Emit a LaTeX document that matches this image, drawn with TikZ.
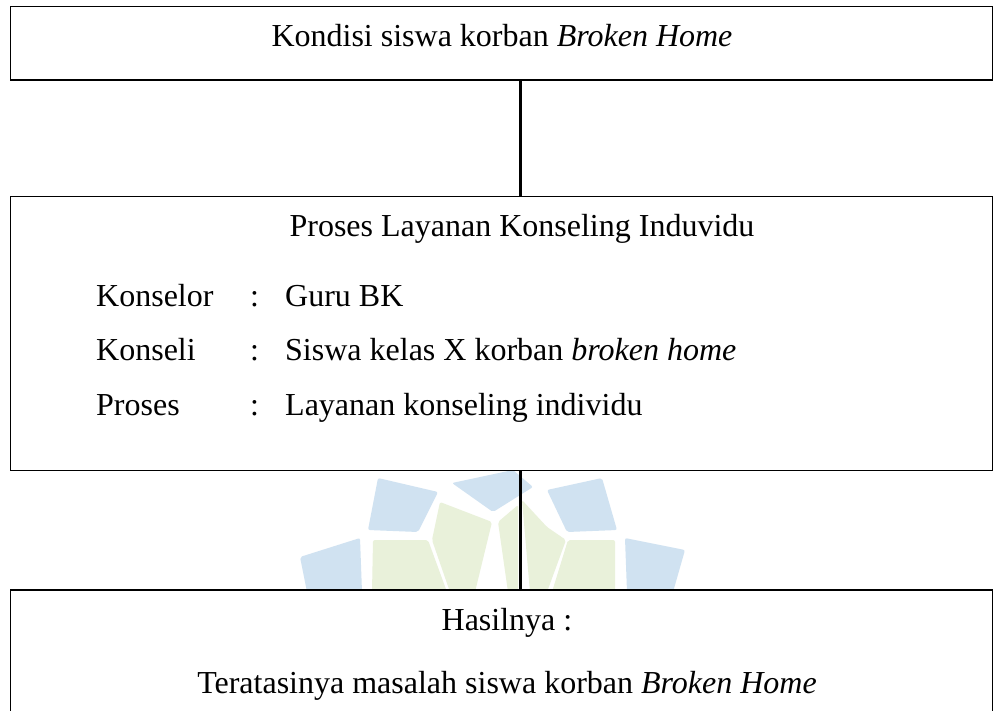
\documentclass[tikz,border=0pt]{standalone}
\usepackage{fontspec}
\setmainfont{Liberation Serif}
\definecolor{wblue}{RGB}{208,226,241}
\definecolor{wgreen}{RGB}{233,241,218}
\begin{document}
\begin{tikzpicture}[x=1pt,y=-1pt,
  box/.style={draw=black, line width=1.3pt, fill=white, inner sep=0pt},
  link/.style={draw=black, line width=2.6pt},
  txt/.style={font=\fontsize{32}{38}\selectfont, inner sep=0pt, anchor=base},
  lbl/.style={font=\fontsize{32}{38}\selectfont, inner sep=0pt, anchor=base west},
  tile/.style={rounded corners=2pt}]
\useasboundingbox (0,0) rectangle (993,710);
\fill[white] (0,0) rectangle (993,710);
% watermark (faint logo)
\fill[wblue,tile] (378,478) -- (438,492) -- (418,532) -- (368,530) -- cycle;
\fill[wblue,tile] (452,483) -- (513,470) -- (533,487) -- (493,512) -- cycle;
\fill[wblue,tile] (547,490) -- (602,478) -- (617,530) -- (567,532) -- cycle;
\fill[wblue,tile] (300,557) -- (360,538) -- (362,592) -- (307,592) -- cycle;
\fill[wblue,tile] (625,538) -- (685,550) -- (673,592) -- (627,592) -- cycle;
\fill[wgreen,tile] (373,540) -- (428,540) -- (447,592) -- (372,592) -- cycle;
\fill[wgreen,tile] (440,502) -- (492,522) -- (475,592) -- (450,592) -- (432,540) -- cycle;
\fill[wgreen,tile] (498,522) -- (518,505) -- (518,592) -- (508,592) -- cycle;
\fill[wgreen,tile] (522,500) -- (547,527) -- (566,540) -- (547,592) -- (530,592) -- cycle;
\fill[wgreen,tile] (568,540) -- (615,540) -- (615,592) -- (552,592) -- cycle;
% boxes
\node[box, minimum width=981.6pt, minimum height=73.3pt] (top) at (501.5,43.35) {};
\node[box, minimum width=981.6pt, minimum height=274pt] (mid) at (501.5,333.7) {};
\node[box, minimum width=981.6pt, minimum height=140pt] (bot) at (501.5,660) {};
% connectors
\coordinate (axis) at (520.3,0);
\draw[link] (top.south -| axis) -- (mid.north -| axis);
\draw[link] (mid.south -| axis) -- (bot.north -| axis);
% texts
\node[txt] (t1) at (502,46.7) {Kondisi siswa korban \textit{Broken Home}};
\node[txt] (t2) at (522,236.7) {Proses Layanan Konseling Induvidu};
\node[lbl] (l1) at (96,306) {Konselor};
\node[lbl] (c1) at (250,306) {:};
\node[lbl] (v1) at (285,306) {Guru BK};
\node[lbl] (l2) at (96,360.7) {Konseli};
\node[lbl] (c2) at (250,360.7) {:};
\node[lbl] (v2) at (285,360.7) {Siswa kelas X korban \textit{broken home}};
\node[lbl] (l3) at (96,415.7) {Proses};
\node[lbl] (c3) at (250,415.7) {:};
\node[lbl] (v3) at (285,415.7) {Layanan konseling individu};
\node[txt] (t6) at (507,630) {Hasilnya :};
\node[txt] (t7) at (507,693) {Teratasinya masalah siswa korban \textit{Broken Home}};
\end{tikzpicture}
\end{document}
